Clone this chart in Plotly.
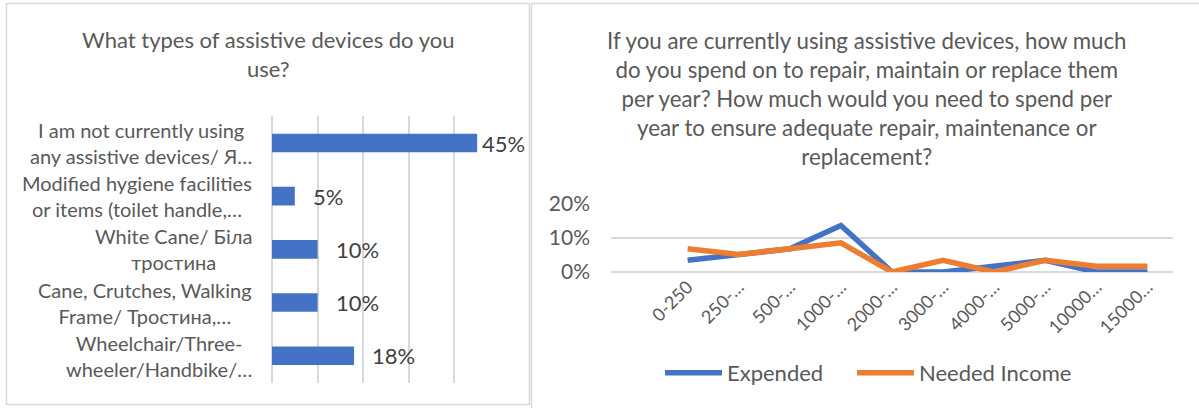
import plotly.graph_objects as go

# ---------------- data ----------------
device_types = [
    "I am not currently using<br>any assistive devices/ Я…",
    "Modified hygiene facilities<br>or items (toilet handle,…",
    "White Cane/ Біла<br>тростина",
    "Cane, Crutches, Walking<br>Frame/ Тростина,…",
    "Wheelchair/Three-<br>wheeler/Handbike/…",
]
device_share = [0.45, 0.05, 0.10, 0.10, 0.18]

spend_ranges = ["0-250", "250-…", "500-…", "1000-…", "2000-…",
                "3000-…", "4000-…", "5000-…", "10000…", "15000…"]
expended = [0.034, 0.051, 0.068, 0.136, 0.0, 0.0, 0.017, 0.034, 0.0, 0.0]
needed_income = [0.068, 0.051, 0.068, 0.085, 0.0, 0.034, 0.0, 0.034, 0.017, 0.017]

left_title = "What types of assistive devices do you<br>use?"
right_title = ("If you are currently using assistive devices, how much<br>"
               "do you spend on to repair, maintain or replace them<br>"
               "per year? How much would you need to spend per<br>"
               "year to ensure adequate repair, maintenance or<br>"
               "replacement?")

# ---------------- layout helpers ----------------
W, H = 1199, 408
FONT = "Lato, 'Open Sans', sans-serif"
TXT = "#595959"
GRID = "#D9D9D9"


def px(x):
    return x / W


def py(y):
    return 1 - y / H


fig = go.Figure()

fig.add_trace(go.Bar(
    x=device_share, y=device_types, orientation="h",
    marker=dict(color="#4472C4", line=dict(width=0)),
    xaxis="x", yaxis="y", showlegend=False, hoverinfo="skip",
))

fig.add_trace(go.Scatter(
    x=spend_ranges, y=expended, mode="lines", name="Expended",
    line=dict(color="#4472C4", width=5.5), xaxis="x2", yaxis="y2",
    cliponaxis=False, legend="legend",
))
fig.add_trace(go.Scatter(
    x=spend_ranges, y=needed_income, mode="lines", name="Needed Income",
    line=dict(color="#ED7D31", width=5.5), xaxis="x2", yaxis="y2",
    cliponaxis=False, legend="legend2",
))

annotations = []
annotations.append(dict(
    text=left_title, x=px(268), y=py(54), xref="paper", yref="paper",
    xanchor="center", yanchor="middle", showarrow=False, align="center",
    font=dict(family=FONT, size=22, color=TXT)))
annotations.append(dict(
    text=right_title, x=px(867), y=py(98), xref="paper", yref="paper",
    xanchor="center", yanchor="middle", showarrow=False, align="center",
    font=dict(family=FONT, size=22.3, color=TXT)))

for cat in device_types:
    annotations.append(dict(
        text=cat, x=px(254), y=cat, xref="paper", yref="y",
        xanchor="right", yanchor="middle", showarrow=False, align="center",
        font=dict(family=FONT, size=20, color=TXT)))

for cat, v in zip(device_types, device_share):
    shift = 3 if v > 0.4 else 16
    annotations.append(dict(
        text=f"{v:.0%}", x=v, y=cat, xref="x", yref="y",
        xanchor="left", yanchor="middle", xshift=shift, showarrow=False,
        font=dict(family=FONT, size=22, color="#404040")))

shapes = [
    dict(type="rect", xref="paper", yref="paper",
         x0=px(6.5), x1=px(529.5), y0=py(404.5), y1=py(3.5),
         line=dict(color=GRID, width=1.5)),
    dict(type="line", xref="paper", yref="paper",
         x0=px(531.5), x1=1.0, y0=py(3.5), y1=py(3.5),
         line=dict(color=GRID, width=1.5)),
    dict(type="line", xref="paper", yref="paper",
         x0=px(531.5), x1=px(531.5), y0=py(3.5), y1=0,
         line=dict(color=GRID, width=1.5)),
]

legend_style = dict(orientation="h", xanchor="left", y=py(373),
                    yanchor="middle",
                    font=dict(family=FONT, size=22, color=TXT),
                    bgcolor="rgba(0,0,0,0)", itemwidth=57)

fig.update_layout(
    width=W, height=H, autosize=False,
    margin=dict(l=0, r=0, t=0, b=0, pad=0),
    paper_bgcolor="white", plot_bgcolor="white",
    font=dict(family=FONT, color=TXT),
    bargap=0.65,
    xaxis=dict(domain=[px(272), px(500)], range=[0, 0.5], dtick=0.1,
               showgrid=True, gridcolor=GRID, gridwidth=1.5,
               zeroline=True, zerolinecolor=GRID, zerolinewidth=1.5,
               showticklabels=False, showline=False, fixedrange=True,
               automargin=False),
    yaxis=dict(domain=[py(382.7), py(116)], autorange="reversed",
               showticklabels=False, showgrid=False, showline=False,
               zeroline=False, fixedrange=True, automargin=False),
    xaxis2=dict(domain=[px(611), px(1173)], type="category",
                range=[-1.5, 9.5], tickangle=-45, showgrid=False,
                showline=False, zeroline=False, ticks="",
                tickfont=dict(family=FONT, size=18, color=TXT),
                anchor="y2", fixedrange=True, automargin=False),
    yaxis2=dict(domain=[py(272), py(203.5)], range=[0, 0.2], dtick=0.1,
                tickformat=".0%", showgrid=True, gridcolor=GRID,
                gridwidth=1.5, zeroline=True, zerolinecolor=GRID,
                zerolinewidth=1.5, showline=False, ticks="",
                ticklabelstandoff=20,
                tickfont=dict(family=FONT, size=21, color=TXT),
                anchor="x2", fixedrange=True, automargin=False),
    legend=dict(x=px(660), **legend_style),
    legend2=dict(x=px(852), **legend_style),
    annotations=annotations,
    shapes=shapes,
)

fig.write_html(
    "out.html",
    config={"displayModeBar": False, "responsive": False},
    post_script="document.body.style.margin='0';document.body.style.overflow='hidden';",
)
